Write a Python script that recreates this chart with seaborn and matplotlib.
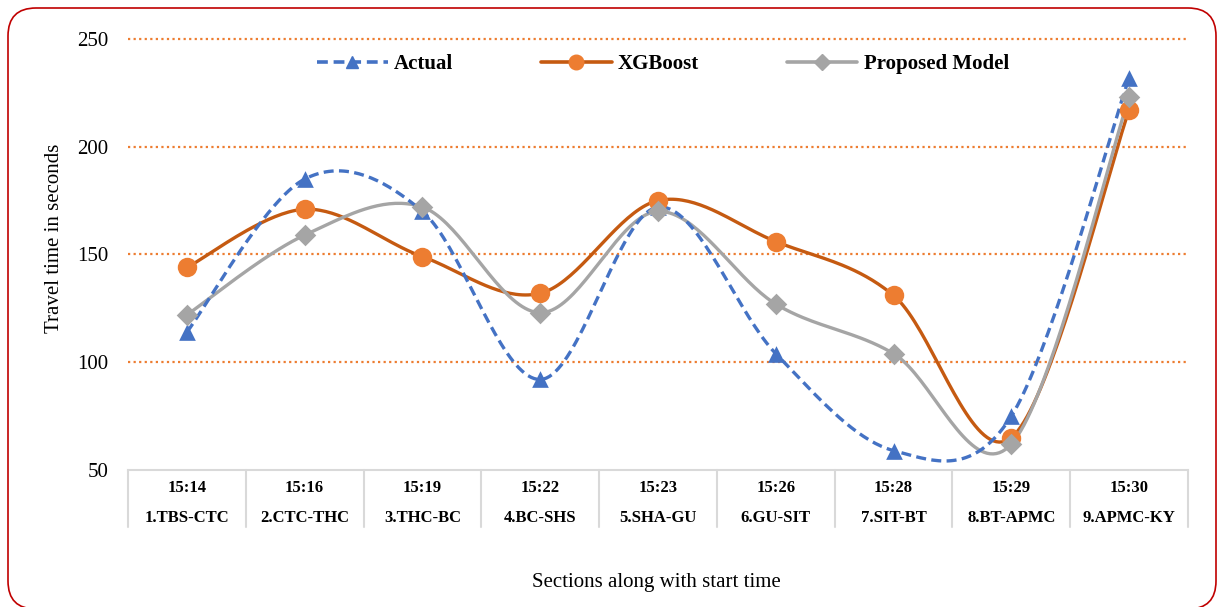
import numpy as np
import pandas as pd
import matplotlib
matplotlib.use("Agg")
import matplotlib.pyplot as plt
import seaborn as sns
from matplotlib.lines import Line2D
from matplotlib.patches import FancyBboxPatch
import matplotlib.transforms as mtransforms

times = ["15:14", "15:16", "15:19", "15:22", "15:23", "15:26", "15:28", "15:29", "15:30"]
sections = ["1.TBS-CTC", "2.CTC-THC", "3.THC-BC", "4.BC-SHS", "5.SHA-GU",
            "6.GU-SIT", "7.SIT-BT", "8.BT-APMC", "9.APMC-KY"]
actual = [114, 185, 170, 92, 172, 104, 59, 75, 232]
xgboost = [144, 171, 149, 132, 175, 156, 131, 65, 217]
proposed = [122, 159, 172, 123, 170, 127, 104, 62, 223]
yticks = [50, 100, 150, 200, 250]

sns.set_theme(style="white")
plt.rcParams['font.family'] = ['Liberation Serif', 'DejaVu Serif']
for k in ["text.color", "axes.labelcolor", "xtick.color", "ytick.color"]:
    plt.rcParams[k] = "black"

def smooth(xs, ys, n=40):
    # Catmull-Rom smoothing (like Excel's smoothed line)
    xs = np.asarray(xs, float); ys = np.asarray(ys, float)
    P = np.column_stack([xs, ys])
    P = np.vstack([P[0], P, P[-1]])
    out = []
    for i in range(1, len(P) - 2):
        p0, p1, p2, p3 = P[i-1], P[i], P[i+1], P[i+2]
        m1 = (p2 - p0) / 2.0
        m2 = (p3 - p1) / 2.0
        t = np.linspace(0, 1, n)[:, None]
        h00 = 2*t**3 - 3*t**2 + 1
        h10 = t**3 - 2*t**2 + t
        h01 = -2*t**3 + 3*t**2
        h11 = t**3 - t**2
        seg = h00*p1 + h10*m1 + h01*p2 + h11*m2
        out.append(seg if i == 1 else seg[1:])
    s = np.vstack(out)
    return s[:, 0], s[:, 1]

W, H = 1220, 607
fig = plt.figure(figsize=(W/100, H/100), dpi=100)
L, R, T, B = 128, 1188, 39, 470
ax = fig.add_axes([L/W, 1-B/H, (R-L)/W, (B-T)/H])

x = np.arange(len(sections))
blue = "#4472C4"; orange_line = "#C55A11"; orange = "#ED7D31"; gray = "#A5A5A5"

# gridlines
for v in yticks[1:]:
    ax.axhline(v, color=orange, lw=1.6, ls=(0, (1, 1.5)), zorder=0, clip_on=False)

series = [
    ("Actual", actual, blue, blue, (0, (3, 1.6)), "^", 12),
    ("XGBoost", xgboost, orange_line, orange, "-", "o", 14),
    ("Proposed Model", proposed, gray, gray, "-", "D", 11),
]
handles = []
for name, vals, lc, mc, ls, mk, ms in series:
    sx, sy = smooth(x, vals)
    df = pd.DataFrame({"x": sx, "y": sy})
    sns.lineplot(data=df, x="x", y="y", ax=ax, color=lc, lw=2.4, sort=False,
                 linestyle=ls, zorder=3 if name != "Actual" else 4)
    pts = pd.DataFrame({"x": x, "y": vals})
    sns.scatterplot(data=pts, x="x", y="y", ax=ax, color=mc, marker=mk, s=ms**2,
                    edgecolor=mc, linewidth=0, zorder=5, clip_on=False)
    handles.append(Line2D([0], [0], color=lc, lw=2.6, linestyle=ls, marker=mk,
                          markersize=ms*0.75, markerfacecolor=mc, markeredgecolor=mc))

ax.set_xlim(-0.5, len(sections) - 0.5)
ax.set_ylim(yticks[0], yticks[-1])
ax.set_yticks(yticks)
ax.set_yticklabels([str(v) for v in yticks], fontsize=15)
ax.tick_params(axis='y', length=0, pad=14)
ax.set_xticks([])
ax.set_xlabel("")
ax.set_ylabel("")
for s in ["top", "right", "left"]:
    ax.spines[s].set_visible(False)
ax.spines["bottom"].set_color("#D9D9D9")
ax.spines["bottom"].set_linewidth(1.5)

# category table below
trans = mtransforms.blended_transform_factory(ax.transData, ax.transAxes)
ph = B - T
tab_h = -(527-B)/ph
for b in np.arange(-0.5, len(sections), 1.0):
    ax.plot([b, b], [0, tab_h], transform=trans, color="#D9D9D9", lw=1.5, clip_on=False)
for i in range(len(sections)):
    ax.text(x[i], -(488-B)/ph, times[i], transform=trans, ha="center", va="center",
            fontsize=12, fontweight="bold")
    ax.text(x[i], -(518-B)/ph, sections[i], transform=trans, ha="center", va="center",
            fontsize=12, fontweight="bold")

fig.text(656/W, 1-583/H, "Sections along with start time", ha="center", va="center",
         fontsize=15)
fig.text(55/W, 1-238/H, "Travel time in seconds", ha="center", va="center",
         fontsize=15, rotation=90)

leg = ax.legend(handles, [s[0] for s in series], loc="center", ncol=3,
                bbox_to_anchor=(663/W, 1-64/H), bbox_transform=fig.transFigure,
                frameon=False, prop={"weight": "bold", "size": 15},
                handlelength=3.4, columnspacing=4.2, handletextpad=0.3)

border = FancyBboxPatch((8, -2), 1208, 601,
                        boxstyle="round,pad=0,rounding_size=28",
                        transform=mtransforms.IdentityTransform(), fill=False,
                        edgecolor="#C00000", lw=1.2)
fig.patches.append(border)

fig.savefig("out.png", dpi=100)
